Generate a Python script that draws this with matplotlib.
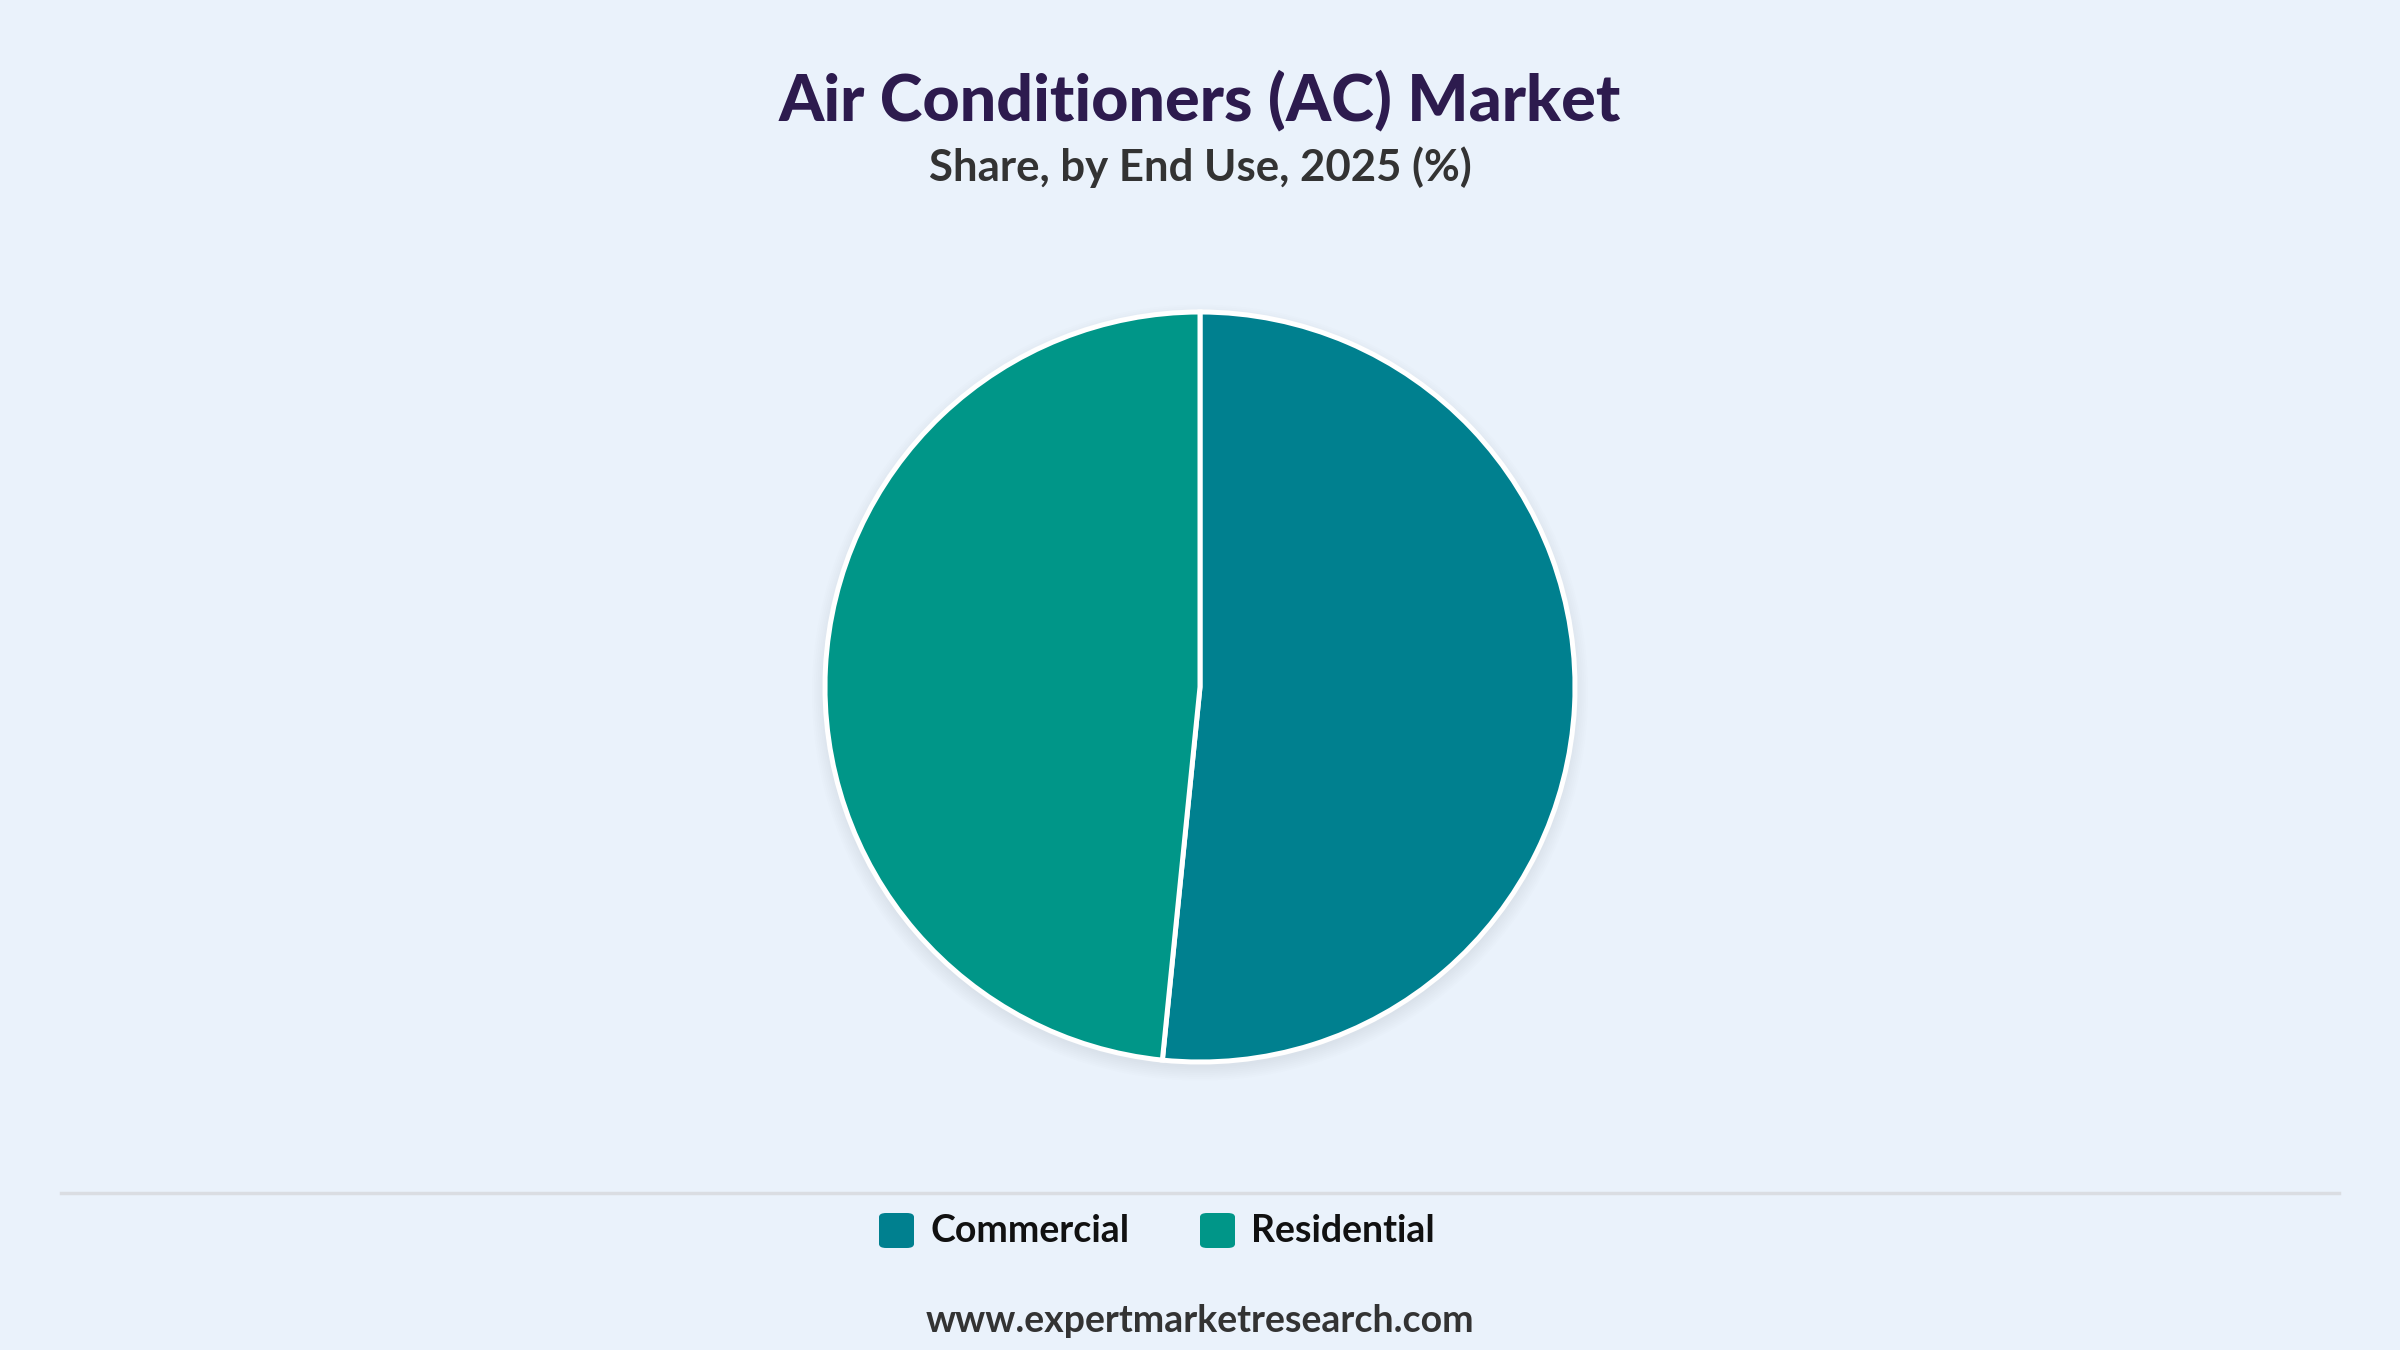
import matplotlib.pyplot as plt
from matplotlib.patches import Circle, FancyBboxPatch
from matplotlib.lines import Line2D

# data
segments = ['Commercial', 'Residential']
shares = [51.6, 48.4]
colors = ['#00808F', '#009688']

title = 'Air Conditioners (AC) Market'
subtitle = 'Share, by End Use, 2025 (%)'
source = 'www.expertmarketresearch.com'

W, H = 2400, 1350
bg = '#EAF2FB'
plt.rcParams['font.family'] = ['Lato', 'DejaVu Sans']

fig = plt.figure(figsize=(24, 13.5), dpi=100, facecolor=bg)


def fx(px):
    return px / W


def fy(py):
    return 1 - py / H


# pie, centre (1200, 687) px, radius ~375 px
R = 375
cx, cy = 1200, 687
pad = 1.15
side = 2 * R * pad
ax = fig.add_axes([fx(cx - side / 2), fy(cy + side / 2), side / W, side / H])

# soft shadow
for k in range(8):
    ax.add_patch(Circle((0, -0.015), 1.0 + k * 0.005, color='#1b2a44',
                        alpha=0.007, lw=0, zorder=0))

ax.pie(shares, colors=colors, startangle=90, counterclock=False, radius=1.0,
       wedgeprops=dict(edgecolor='white', linewidth=3.6), frame=True)
ax.set_xlim(-pad, pad)
ax.set_ylim(-pad, pad)
ax.set_aspect('equal')
ax.axis('off')

# titles
fig.text(0.5, fy(120), title, ha='center', va='baseline', fontsize=46.5,
         fontweight='black', color='#2D1B4E')
fig.text(0.5, fy(181), subtitle, ha='center', va='baseline', fontsize=31.5,
         fontweight='bold', color='#333333')

# separator
fig.add_artist(Line2D([fx(61), fx(2339)], [fy(1193), fy(1193)],
                      color='#DADDE2', lw=2.5))

# legend
lx = [879, 1200]
for x0, name, c in zip(lx, segments, colors):
    fig.add_artist(FancyBboxPatch((fx(x0), fy(1248)), fx(35), 35 / H,
                                  boxstyle='round,pad=0,rounding_size=0.003',
                                  transform=fig.transFigure, fc=c, ec='none'))
    fig.text(fx(x0 + 51), fy(1242), name, ha='left', va='baseline',
             fontsize=27, fontweight='bold', color='#111111')

fig.text(0.5, fy(1332), source, ha='center', va='baseline', fontsize=27,
         fontweight='bold', color='#333333')

fig.savefig('out.png', dpi=100, facecolor=bg)
